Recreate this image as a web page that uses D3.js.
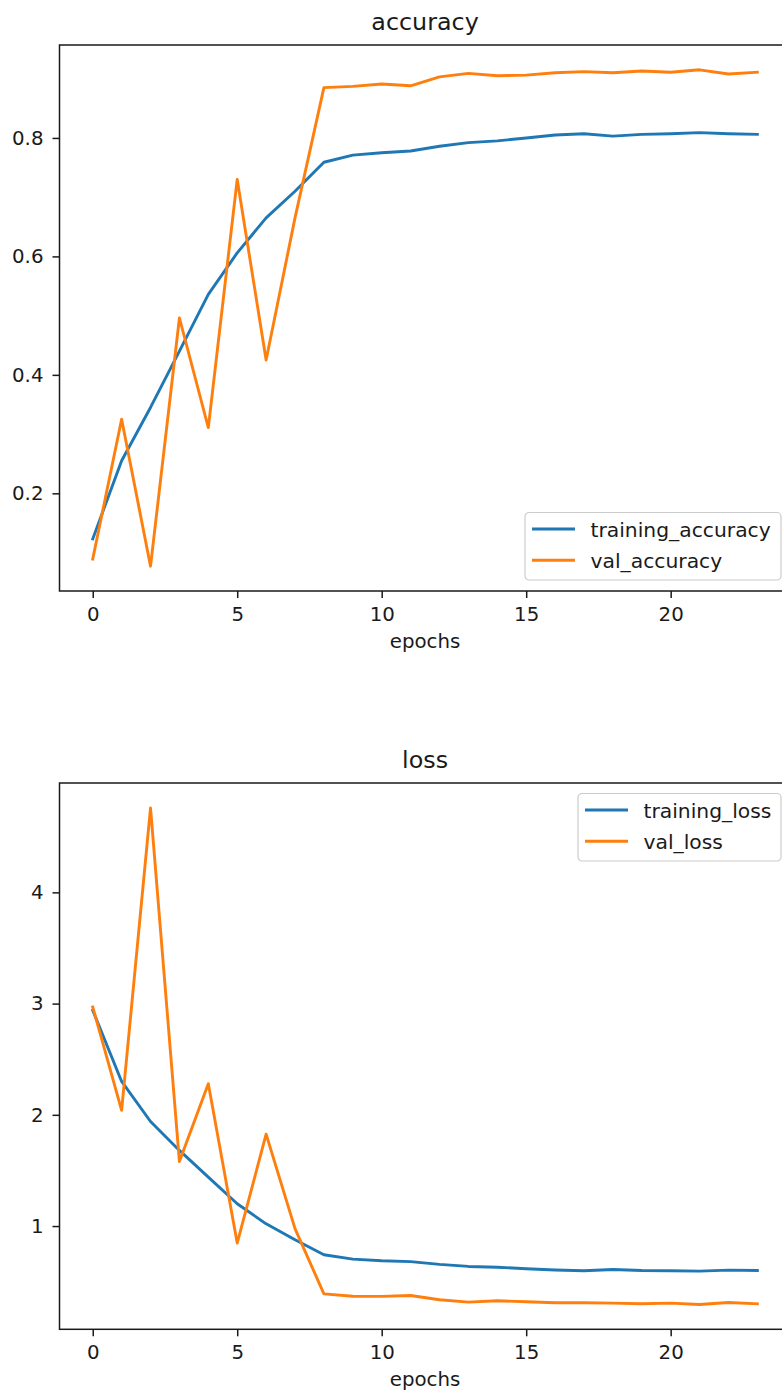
<!DOCTYPE html>
<html>
<head>
<meta charset="utf-8">
<script src="https://cdn.jsdelivr.net/npm/d3@7"></script>
<style>
  html, body { margin: 0; padding: 0; background: #ffffff; }
  svg { display: block; }
  text { font-family: "DejaVu Sans", sans-serif; fill: #1a1a1a; }
</style>
</head>
<body>
<svg id="chart" width="782" height="1396"></svg>
<script>
// Training history, one value per epoch
const epochs = [0, 1, 2, 3, 4, 5, 6, 7, 8, 9, 10, 11, 12, 13, 14, 15, 16, 17, 18, 19, 20, 21, 22, 23];

const trainingAccuracy = [0.123, 0.255, 0.345, 0.440, 0.536, 0.606, 0.665, 0.710, 0.759, 0.771, 0.775, 0.778,
                          0.786, 0.792, 0.795, 0.800, 0.805, 0.807, 0.803, 0.806, 0.807, 0.809, 0.807, 0.806];
const valAccuracy      = [0.089, 0.325, 0.077, 0.496, 0.311, 0.730, 0.425, 0.665, 0.885, 0.887, 0.891, 0.888,
                          0.903, 0.909, 0.905, 0.906, 0.910, 0.912, 0.910, 0.913, 0.911, 0.915, 0.908, 0.911];
const trainingLoss     = [2.94, 2.30, 1.94, 1.68, 1.44, 1.20, 1.02, 0.877, 0.742, 0.703, 0.688, 0.680,
                          0.655, 0.637, 0.630, 0.616, 0.605, 0.598, 0.610, 0.601, 0.598, 0.595, 0.604, 0.601];
const valLoss          = [2.97, 2.04, 4.76, 1.58, 2.28, 0.847, 1.826, 0.977, 0.390, 0.369, 0.368, 0.376,
                          0.337, 0.316, 0.328, 0.319, 0.310, 0.310, 0.307, 0.301, 0.307, 0.295, 0.313, 0.301];

const xTicks = [0, 5, 10, 15, 20];
const accuracyTicks = [0.2, 0.4, 0.6, 0.8];
const lossTicks = [1, 2, 3, 4];

const BLUE = "#1f77b4";
const ORANGE = "#ff7f0e";
const FONT = 19.8;
const LEGEND_FONT = 20.3;
const TITLE_FONT = 23.8;
const LINE_W = 2.9;
const SPINE_W = 1.5;
const TICK_LEN = 7;

const svg = d3.select("#chart");

// matplotlib-style autoscale: 5% margin on each side of the data range
function paddedDomain(values) {
  const [lo, hi] = d3.extent(values);
  const pad = (hi - lo) * 0.05;
  return [lo - pad, hi + pad];
}

function drawPanel(cfg) {
  const left = 59.5, right = 790.6;
  const x = d3.scaleLinear()
    .domain(paddedDomain(epochs))
    .range([left, right]);
  const y = d3.scaleLinear()
    .domain(paddedDomain(cfg.series.flatMap(s => s.values)))
    .range([cfg.bottom, cfg.top]);

  const g = svg.append("g");

  // data lines
  const line = d3.line()
    .x((d, i) => x(epochs[i]))
    .y(d => y(d));
  cfg.series.forEach(s => {
    g.append("path")
      .datum(s.values)
      .attr("d", line)
      .attr("fill", "none")
      .attr("stroke", s.color)
      .attr("stroke-width", LINE_W)
      .attr("stroke-linejoin", "round")
      .attr("stroke-linecap", "square");
  });

  // spines
  g.append("rect")
    .attr("x", left).attr("y", cfg.top)
    .attr("width", right - left).attr("height", cfg.bottom - cfg.top)
    .attr("fill", "none")
    .attr("stroke", "#1a1a1a")
    .attr("stroke-width", SPINE_W);

  // x axis
  const xAxis = d3.axisBottom(x)
    .tickValues(xTicks)
    .tickSizeInner(TICK_LEN)
    .tickSizeOuter(0)
    .tickPadding(8.5)
    .tickFormat(d3.format("d"));
  const xa = g.append("g")
    .attr("transform", `translate(0,${cfg.bottom})`)
    .call(xAxis);
  xa.select(".domain").remove();
  xa.selectAll(".tick line").attr("stroke", "#1a1a1a").attr("stroke-width", SPINE_W);
  xa.selectAll(".tick text")
    .attr("font-size", FONT)
    .attr("font-family", "DejaVu Sans")
    .attr("fill", "#1a1a1a");

  // y axis
  const yAxis = d3.axisLeft(y)
    .tickValues(cfg.yTicks)
    .tickSizeInner(TICK_LEN)
    .tickSizeOuter(0)
    .tickPadding(9)
    .tickFormat(cfg.yFormat);
  const ya = g.append("g")
    .attr("transform", `translate(${left},0)`)
    .call(yAxis);
  ya.select(".domain").remove();
  ya.selectAll(".tick line").attr("stroke", "#1a1a1a").attr("stroke-width", SPINE_W);
  ya.selectAll(".tick text")
    .attr("font-size", FONT)
    .attr("font-family", "DejaVu Sans")
    .attr("fill", "#1a1a1a");

  // title and x label
  const cx = (left + right) / 2;
  g.append("text")
    .attr("x", cx).attr("y", cfg.top - 15.5)
    .attr("text-anchor", "middle")
    .attr("font-size", TITLE_FONT)
    .text(cfg.title);
  g.append("text")
    .attr("x", cx).attr("y", cfg.bottom + 57)
    .attr("text-anchor", "middle")
    .attr("font-size", FONT)
    .text("epochs");

  // legend
  const L = cfg.legend;
  const lg = g.append("g").attr("transform", `translate(${L.x},${L.y})`);
  lg.append("rect")
    .attr("x", 0).attr("y", 0)
    .attr("width", L.w).attr("height", 67.5)
    .attr("rx", 4).attr("ry", 4)
    .attr("fill", "#ffffff").attr("fill-opacity", 0.8)
    .attr("stroke", "#cccccc").attr("stroke-width", 1.2);
  cfg.series.forEach((s, i) => {
    const ly = 16.5 + i * 31.2;
    lg.append("line")
      .attr("x1", 7).attr("x2", 50)
      .attr("y1", ly).attr("y2", ly)
      .attr("stroke", s.color)
      .attr("stroke-width", LINE_W);
    lg.append("text")
      .attr("x", 65.5).attr("y", ly + 7.5)
      .attr("font-size", LEGEND_FONT)
      .text(s.name);
  });
}

drawPanel({
  title: "accuracy",
  top: 45, bottom: 591,
  yTicks: accuracyTicks,
  yFormat: d3.format(".1f"),
  series: [
    { name: "training_accuracy", values: trainingAccuracy, color: BLUE },
    { name: "val_accuracy", values: valAccuracy, color: ORANGE }
  ],
  legend: { x: 525, y: 512.5, w: 256 }
});

drawPanel({
  title: "loss",
  top: 783, bottom: 1329.3,
  yTicks: lossTicks,
  yFormat: d3.format("d"),
  series: [
    { name: "training_loss", values: trainingLoss, color: BLUE },
    { name: "val_loss", values: valLoss, color: ORANGE }
  ],
  legend: { x: 578, y: 793.5, w: 203 }
});
</script>
</body>
</html>
